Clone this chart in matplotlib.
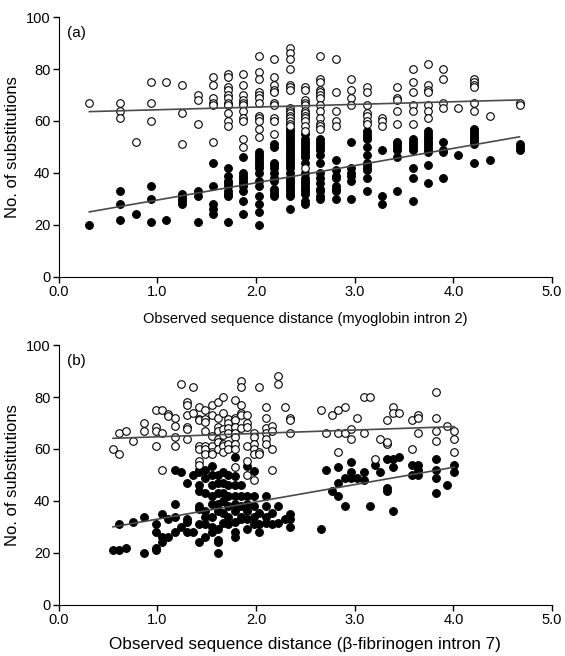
import matplotlib
matplotlib.use('Agg')

import matplotlib.pyplot as plt

plt.rcParams['font.family'] = ['Liberation Sans', 'DejaVu Sans']

# panel (a): distances come in columns
a_cols = [0.31, 0.62, 0.78, 0.94, 1.09, 1.25, 1.41, 1.56, 1.72, 1.87, 2.03, 2.18, 2.34, 2.50,
          2.65, 2.81, 2.96, 3.12, 3.28, 3.43, 3.59, 3.74, 3.90, 4.05, 4.21, 4.37, 4.68]
a_open = [
    [67],
    [67, 64, 61],
    [52],
    [75, 67, 60],
    [75],
    [74, 63, 51],
    [70, 68, 59],
    [77, 74, 69, 67, 66, 52],
    [78, 77, 73, 72, 70, 69, 67, 66, 63, 60, 58],
    [78, 74, 70, 68, 67, 66, 64, 61, 60, 53, 50],
    [85, 79, 76, 71, 70, 69, 67, 62, 61, 60, 57, 54],
    [84, 77, 74, 72, 71, 67, 66, 61, 60, 55],
    [88, 86, 84, 80, 74, 73, 72, 65, 64, 63, 62, 61, 60, 59, 58],
    [73, 72, 68, 67, 66, 64, 63, 62, 61, 60, 58, 56, 42],
    [85, 76, 75, 72, 71, 70, 69, 66, 64, 61, 59, 58, 57],
    [84, 71, 64, 60, 58],
    [76, 72, 69, 66],
    [73, 71, 66, 63, 62, 60, 59],
    [61, 60, 58],
    [73, 69, 68, 64, 59],
    [80, 75, 71, 66, 64, 59],
    [82, 74, 72, 71, 66, 64, 61],
    [80, 76, 67, 65],
    [65],
    [76, 75, 74, 73, 67, 64],
    [62],
    [67, 66],
]
a_filled = [
    [20],
    [33, 28, 22],
    [24],
    [35, 30, 21],
    [22],
    [32, 31, 30, 29, 28],
    [33, 31, 21],
    [44, 35, 28, 26, 24],
    [42, 39, 37, 36, 35, 33, 32, 31, 21],
    [46, 40, 39, 38, 37, 36, 35, 33, 29, 24],
    [48, 47, 46, 45, 44, 43, 42, 40, 37, 35, 31, 28, 25, 20],
    [51, 50, 44, 43, 42, 40, 38, 37, 34, 33, 32, 31],
    [57, 56, 55, 54, 53, 52, 51, 50, 49, 48, 47, 46, 45, 44, 43, 42, 40, 38, 37, 36, 35, 34, 33, 32, 31, 26],
    [55, 53, 52, 51, 50, 49, 48, 47, 46, 44, 40, 38, 37, 36, 35, 34, 33, 32, 29, 28],
    [53, 52, 51, 50, 49, 47, 44, 40, 38, 36, 34, 33, 31, 30],
    [45, 41, 39, 38, 35, 34, 33, 30],
    [52, 42, 40, 39, 37, 30],
    [56, 55, 54, 53, 50, 47, 44, 43, 42, 41, 38, 33],
    [49, 31, 28],
    [52, 51, 50, 49, 46, 33],
    [53, 52, 51, 50, 49, 42, 38, 29],
    [56, 55, 54, 53, 52, 51, 50, 49, 48, 43, 36],
    [52, 49, 48, 38],
    [47],
    [57, 56, 55, 54, 53, 52, 51, 44],
    [45],
    [51, 50, 49],
]
# fitted lines (x start/end, y start/end)
a_fit_x = [0.31, 4.67]
a_fit_open = [63.6, 68.1]
a_fit_filled = [25.0, 53.9]

# panel (b)
b_open_x = [0.55, 0.61, 0.61, 0.68, 0.75, 0.86, 0.86, 0.99, 0.99, 0.99, 0.99, 1.05, 1.05, 1.05,
            1.11, 1.11, 1.18, 1.18, 1.18, 1.18, 1.24, 1.30, 1.30, 1.30, 1.30, 1.30, 1.30, 1.36,
            1.36, 1.42, 1.42, 1.42, 1.42, 1.42, 1.42, 1.42, 1.48, 1.48, 1.48, 1.48, 1.48, 1.48,
            1.48, 1.55, 1.55, 1.55, 1.55, 1.55, 1.55, 1.61, 1.61, 1.61, 1.61, 1.61, 1.61, 1.61,
            1.66, 1.66, 1.66, 1.66, 1.66, 1.66, 1.66, 1.72, 1.72, 1.72, 1.72, 1.72, 1.72, 1.79,
            1.79, 1.79, 1.79, 1.79, 1.79, 1.79, 1.79, 1.79, 1.85, 1.85, 1.85, 1.85, 1.85, 1.85,
            1.91, 1.91, 1.91, 1.91, 1.91, 1.91, 1.98, 1.98, 1.98, 1.98, 1.98, 1.98, 2.03, 2.03,
            2.03, 2.10, 2.10, 2.10, 2.10, 2.10, 2.10, 2.16, 2.16, 2.16, 2.16, 2.22, 2.22, 2.29,
            2.34, 2.34, 2.34, 2.66, 2.71, 2.77, 2.83, 2.83, 2.83, 2.90, 2.90, 2.96, 2.96, 3.02,
            3.09, 3.15, 3.09, 3.21, 3.26, 3.33, 3.33, 3.33, 3.39, 3.39, 3.45, 3.58, 3.58, 3.64,
            3.64, 3.64, 3.82, 3.82, 3.82, 3.82, 3.94, 4.01, 4.01, 4.01]
b_open_y = [60, 66, 58, 67, 63, 70, 67, 75, 68.5, 67, 61, 75, 66, 52,
            73.5, 72.5, 72, 69, 64.5, 61, 85, 78, 77, 73, 68.5, 67.5, 64, 84,
            74, 76, 71.5, 71, 61, 60, 55.5, 54, 75, 71.5, 70.5, 67, 61, 60,
            58, 77, 73, 65, 61, 59, 58, 78, 72, 68.5, 67, 64, 62.5, 60,
            80, 74, 67.5, 65.5, 62, 61, 59, 71.5, 70, 68, 66, 62, 60, 79,
            72, 71, 68.5, 66, 64.5, 62, 60, 53, 86, 84, 77, 74, 73, 68,
            73, 70, 68.5, 61, 55.5, 50, 66, 64.5, 62, 60, 58, 48, 84, 59,
            58, 76, 72, 68, 66, 64, 62, 69, 67, 60, 52, 88, 85, 76,
            72, 71, 66, 75, 66, 73, 75, 66, 59, 76, 66, 67.5, 64, 72,
            80, 80, 66, 56, 64, 62, 62.5, 71, 76, 74, 74, 71, 60, 73,
            72, 66, 82, 72, 67, 63, 69, 67, 64, 59]
b_filled_x = [0.55, 0.61, 0.68, 0.61, 0.75, 0.86, 0.86, 0.99, 0.99, 0.99, 0.99, 1.05, 1.05, 1.05,
              1.11, 1.11, 1.18, 1.18, 1.18, 1.18, 1.24, 1.24, 1.30, 1.30, 1.30, 1.30, 1.36, 1.36,
              1.42, 1.42, 1.42, 1.42, 1.42, 1.42, 1.42, 1.42, 1.48, 1.48, 1.48, 1.48, 1.48, 1.48,
              1.48, 1.55, 1.55, 1.55, 1.55, 1.55, 1.55, 1.55, 1.55, 1.61, 1.61, 1.61, 1.61, 1.61,
              1.61, 1.61, 1.61, 1.61, 1.66, 1.66, 1.66, 1.66, 1.66, 1.66, 1.72, 1.72, 1.72, 1.72,
              1.72, 1.72, 1.79, 1.79, 1.79, 1.79, 1.79, 1.79, 1.79, 1.79, 1.79, 1.85, 1.85, 1.85,
              1.85, 1.85, 1.91, 1.91, 1.91, 1.91, 1.91, 1.91, 1.98, 1.98, 1.98, 1.98, 1.98, 2.03,
              2.03, 2.03, 2.10, 2.10, 2.10, 2.10, 2.16, 2.16, 2.22, 2.22, 2.29, 2.34, 2.34, 2.34,
              2.66, 2.71, 2.77, 2.83, 2.83, 2.83, 2.90, 2.90, 2.96, 2.96, 2.96, 3.02, 3.09, 3.09,
              3.15, 3.21, 3.26, 3.33, 3.33, 3.33, 3.39, 3.39, 3.39, 3.45, 3.58, 3.58, 3.64, 3.64,
              3.64, 3.82, 3.82, 3.82, 3.82, 3.94, 4.01, 4.01]
b_filled_y = [21, 21, 22, 31, 32, 34, 20, 31, 28, 22, 21, 35, 26, 24,
              33, 26, 39, 34, 28, 52, 51, 30, 47, 33, 32, 28, 50, 28,
              52, 51, 46, 44, 38, 37, 31, 24, 52, 49, 43, 36, 34, 31,
              26, 53.5, 50, 46, 42, 39, 34, 30, 28, 50, 47, 43, 39, 36,
              29, 25, 24, 20, 51, 47, 43, 40, 35.5, 31.5, 50, 46, 42, 38,
              34, 31, 57, 49.5, 46, 42, 39, 36, 32, 28, 26, 46, 42, 38,
              34, 33, 53.5, 42, 39, 36, 33, 29, 51.5, 42, 38, 34, 31, 35.5,
              31, 28, 42, 38, 34, 31.5, 35.5, 31, 38, 31.5, 33, 35, 33, 30,
              29, 52, 44, 53, 47, 42, 38, 49, 55, 51, 49, 49, 51, 48,
              38, 54, 51, 56, 45, 44, 56, 53, 36, 57, 54, 50, 54, 52,
              50, 56, 52, 49, 43, 46, 54, 51]
b_fit_x = [0.55, 4.01]
b_fit_open = [64.1, 68.6]
b_fit_filled = [30.0, 53.0]

fig = plt.figure(figsize=(5.65, 6.56), dpi=100)
ax1 = fig.add_axes([0.104, 0.578, 0.873, 0.396])
ax2 = fig.add_axes([0.104, 0.078, 0.873, 0.396])

ax_open_x = [x for x, ys in zip(a_cols, a_open) for _ in ys]
ax_open_y = [y for ys in a_open for y in ys]
ax_fill_x = [x for x, ys in zip(a_cols, a_filled) for _ in ys]
ax_fill_y = [y for ys in a_filled for y in ys]

panels = [
    (ax1, ax_open_x, ax_open_y, ax_fill_x, ax_fill_y, a_fit_x, a_fit_open, a_fit_filled,
     '(a)', 'Observed sequence distance (myoglobin intron 2)', 10.5, 9),
    (ax2, b_open_x, b_open_y, b_filled_x, b_filled_y, b_fit_x, b_fit_open, b_fit_filled,
     '(b)', 'Observed sequence distance (\u03b2-fibrinogen intron 7)', 12.3, 7),
]

for ax, ox, oy, fx, fy, lx, lo, lf, tag, xlab, xfs, xpad in panels:
    ax.scatter(fx, fy, s=32, c='black', edgecolors='black', linewidths=0.7, zorder=2)
    ax.scatter(ox, oy, s=30, facecolors='white', edgecolors='black', linewidths=0.8, zorder=3)
    ax.plot(lx, lo, color='#4a4a4a', lw=1.2, zorder=4)
    ax.plot(lx, lf, color='#4a4a4a', lw=1.2, zorder=4)
    ax.set_xlim(0, 5)
    ax.set_ylim(0, 100)
    ax.set_xticks([0, 1, 2, 3, 4, 5])
    ax.set_xticklabels(['0.0', '1.0', '2.0', '3.0', '4.0', '5.0'])
    ax.set_yticks([0, 20, 40, 60, 80, 100])
    ax.spines['top'].set_visible(False)
    ax.spines['right'].set_visible(False)
    ax.tick_params(direction='out', length=4, width=1, labelsize=10.5, pad=2)
    ax.set_ylabel('No. of substitutions', fontsize=12, labelpad=4)
    ax.set_xlabel(xlab, fontsize=xfs, labelpad=xpad)
    ax.text(0.08, 94, tag, fontsize=11, va='center', ha='left')

fig.savefig('out.png', dpi=100)
